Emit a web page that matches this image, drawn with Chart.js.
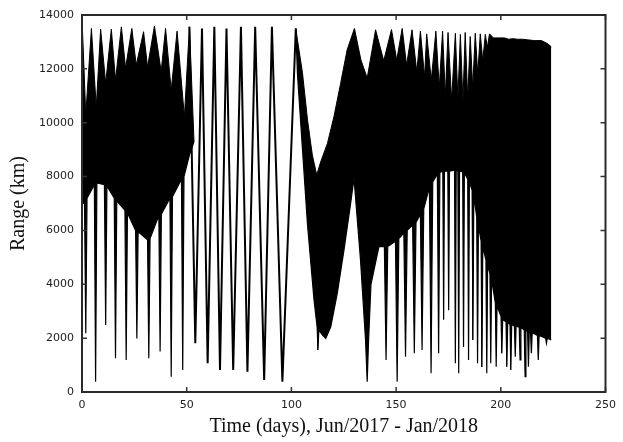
<!DOCTYPE html>
<html>
<head>
<meta charset="utf-8">
<script src="https://cdn.jsdelivr.net/npm/chart.js@4.4.1/dist/chart.umd.min.js"></script>
<style>
  html, body { margin: 0; padding: 0; background: #ffffff; }
  #wrap { width: 623px; height: 442px; }
</style>
</head>
<body>
<div id="wrap"><canvas id="c" width="623" height="442"></canvas></div>
<script>
// ---- axis ticks ----
const xTicks = [0, 50, 100, 150, 200, 250];
const yTicks = [0, 2000, 4000, 6000, 8000, 10000, 12000, 14000];

// ---- early dense region (days 0-54): upper outline with teeth ----
const blobTopDays = [0.2, 1.8, 4.5, 6.8, 8.9, 11.3, 14.0, 16.0, 18.8, 20.8, 23.8, 25.9, 29.4, 31.3, 34.6, 37.8, 39.9, 42.6, 45.4, 48.9, 51.3, 53.5];
const blobTopKm   = [13500, 10300, 13500, 10580, 13470, 11470, 13470, 11590, 13560, 12030, 13500, 12140, 13380, 12070, 13590, 11900, 13500, 11210, 13400, 10220, 13560, 9300];
// lower outline with downward spikes
const blobLowDays = [0.2, 1.2, 1.8, 2.4, 5.9, 6.5, 7.1, 10.7, 11.3, 11.9, 15.4, 16.0, 16.6, 20.5, 21.1, 21.7, 25.6, 26.2, 26.8, 31.3, 31.9, 32.5, 36.7, 37.3, 37.9, 42.0, 42.6, 43.2, 47.5, 48.1, 48.7, 51.3, 53.5];
const blobLowKm   = [7000, 7000, 2180, 7200, 7700, 380, 7760, 7700, 2490, 7650, 7200, 1250, 7100, 6750, 1190, 6650, 6000, 1990, 5950, 5650, 1250, 5700, 6550, 1500, 6600, 7200, 570, 7250, 7900, 820, 8000, 8800, 9300];

// ---- slow single oscillation (days 51-102): peaks and troughs ----
const slowDays = [51.3, 54.1, 57.3, 60.0, 63.2, 65.9, 69.0, 72.2, 75.9, 79.0, 82.7, 87.0, 90.7, 95.7, 102.1];
const slowKm   = [13560, 1810, 13500, 1070, 13560, 820, 13500, 820, 13560, 750, 13560, 450, 13560, 380, 13500];

// ---- later dense band (days 102-224): upper outline with teeth ----
const bandTopDays = [102.1, 102.9, 105.3, 107.7, 110.0, 112.1, 114.0, 117.2, 120.3, 123.5, 126.6, 130.1, 133.2, 136.2, 140.2, 144.1, 147.8, 150.3, 152.9, 155.0, 157.6, 159.9, 161.6, 163.6, 164.6, 166.8, 169.0, 170.6, 172.2, 173.5, 174.8, 176.5, 178.3, 179.5, 180.7, 181.9, 183.0, 184.2, 185.4, 186.6, 187.8, 189.0, 190.2, 191.4, 192.6, 193.6, 194.6, 196.5, 198.9, 201.8, 203.7, 205.8, 208.0, 210.3, 212.5, 216.0, 219.4, 222.0, 224.1];
const bandTopKm   = [13500, 13070, 11850, 10100, 8800, 8060, 8550, 9230, 10220, 11460, 12700, 13500, 12330, 11660, 13450, 12300, 13460, 12330, 13500, 12140, 13450, 11890, 13400, 11700, 13300, 11590, 13400, 11300, 13400, 11000, 13350, 10840, 13320, 10900, 13280, 10800, 13350, 10900, 13200, 11300, 13320, 11800, 13300, 12300, 13280, 12800, 13300, 13150, 13150, 13150, 13100, 13120, 13100, 13100, 13080, 13050, 13050, 12950, 12820];
// lower outline with downward spikes
const bandLowDays = [102.1, 102.9, 105.3, 107.7, 110.8, 112.3, 112.7, 113.1, 114.8, 116.4, 118.8, 121.9, 125.1, 128.3, 129.9, 133.0, 135.4, 136.2, 136.8, 138.0, 141.8,
  144.4, 145.2, 146.0, 149.7, 150.5, 151.3, 153.7, 154.5, 155.3, 157.9, 158.7, 159.5, 161.6, 162.4, 163.2, 165.9, 166.7, 167.5, 169.7, 170.3, 170.9, 172.3, 172.7, 173.1, 174.7, 175.1, 175.5,
  177.9, 178.3, 178.7, 179.5, 179.9, 180.3, 181.8, 182.2, 182.6, 184.2, 184.6, 185.0, 186.3, 186.7, 187.1, 188.5, 188.9, 189.3, 190.6, 191.0, 191.4, 192.9, 193.3, 193.7, 194.8, 195.2, 195.6,
  197.4, 197.8, 198.2, 200.1, 200.5, 200.9, 202.5, 202.9, 203.3, 204.4, 204.8, 205.2, 206.5, 206.9, 207.3, 208.8, 209.2, 209.6, 211.2, 211.6, 212.0, 212.8, 213.2, 213.6, 214.2, 214.6, 215.0,
  217.5, 217.9, 218.3, 221.4, 221.8, 222.2, 224.1];
const bandLowKm   = [13500, 11800, 9000, 6200, 3420, 2400, 1560, 2300, 2120, 1990, 2420, 3660, 5270, 7010, 7940, 4900, 1930, 380, 1800, 4000, 5400,
  5400, 1190, 5400, 5600, 380, 5700, 5900, 1310, 6000, 6200, 1440, 6300, 6600, 1560, 6800, 7600, 700, 7800, 8100, 1440, 8150, 8200, 2680, 8200, 8200, 3040, 8200,
  8240, 1070, 8240, 8200, 700, 8200, 8170, 1670, 8150, 7900, 1190, 7800, 7500, 1930, 7300, 6500, 1070, 6200, 5600, 930, 5400, 4900, 700, 4700, 4400, 1070, 4200,
  3300, 940, 3200, 2800, 1440, 2700, 2600, 940, 2600, 2500, 820, 2500, 2450, 1310, 2450, 2400, 1190, 2400, 2300, 570, 2300, 2250, 940, 2250, 2200, 1440, 2200,
  2100, 1190, 2100, 2000, 1810, 2000, 1930];

const pts = (xs, ys) => xs.map((x, i) => ({ x: x, y: ys[i] }));

const tickFont = { family: 'DejaVu Sans', size: 11 };
const titleFont = { family: 'Liberation Serif', size: 20 };

const framePlugin = {
  id: 'frame',
  afterDatasetsDraw(chart) {
    const { ctx, chartArea: a, scales } = chart;
    ctx.save();
    ctx.strokeStyle = '#333';
    ctx.lineWidth = 1.5;
    const len = 5;
    ctx.beginPath();
    scales.x.ticks.forEach(t => {
      const px = scales.x.getPixelForValue(t.value);
      ctx.moveTo(px, a.bottom); ctx.lineTo(px, a.bottom - len);
      ctx.moveTo(px, a.top); ctx.lineTo(px, a.top + len);
    });
    scales.y.ticks.forEach(t => {
      const py = scales.y.getPixelForValue(t.value);
      ctx.moveTo(a.left, py); ctx.lineTo(a.left + len, py);
      ctx.moveTo(a.right, py); ctx.lineTo(a.right - len, py);
    });
    ctx.stroke();
    ctx.lineWidth = 2;
    ctx.strokeStyle = '#2a2a2a';
    ctx.strokeRect(a.left, a.top, a.right - a.left, a.bottom - a.top);
    ctx.restore();
  }
};

new Chart(document.getElementById('c'), {
  type: 'line',
  data: {
    datasets: [
      { data: pts(slowDays, slowKm), borderColor: '#000', borderWidth: 2, fill: false },
      { data: pts(blobTopDays, blobTopKm), borderColor: '#000', borderWidth: 1, backgroundColor: '#000', fill: '+1' },
      { data: pts(blobLowDays, blobLowKm), borderColor: '#000', borderWidth: 1.2, fill: false },
      { data: pts(bandTopDays, bandTopKm), borderColor: '#000', borderWidth: 1, backgroundColor: '#000', fill: '+1' },
      { data: pts(bandLowDays, bandLowKm), borderColor: '#000', borderWidth: 1.2, fill: false }
    ]
  },
  options: {
    animation: false,
    responsive: false,
    devicePixelRatio: 1,
    layout: { padding: { left: 0, right: 15, top: 15, bottom: 0 } },
    plugins: { legend: { display: false }, tooltip: { enabled: false } },
    elements: { point: { radius: 0 }, line: { tension: 0 } },
    scales: {
      x: {
        type: 'linear', min: 0, max: 250,
        afterBuildTicks: s => { s.ticks = xTicks.map(v => ({ value: v })); },
        ticks: { font: tickFont, color: '#222', padding: 7, maxRotation: 0, callback: v => String(v) },
        grid: { display: false, drawTicks: false },
        border: { display: false },
        title: { display: true, text: 'Time (days), Jun/2017 - Jan/2018', font: titleFont, color: '#111', padding: { top: 0, bottom: 3 } },
        afterFit: s => { s.height = 50; }
      },
      y: {
        type: 'linear', min: 0, max: 14000,
        afterBuildTicks: s => { s.ticks = yTicks.map(v => ({ value: v })); },
        ticks: { font: tickFont, color: '#222', padding: 8, callback: v => String(v) },
        grid: { display: false, drawTicks: false },
        border: { display: false },
        title: { display: true, text: 'Range (km)', font: titleFont, color: '#111', padding: { top: 7, bottom: 0 } },
        afterFit: s => { s.width = 82; }
      }
    }
  },
  plugins: [framePlugin]
});
</script>
</body>
</html>
